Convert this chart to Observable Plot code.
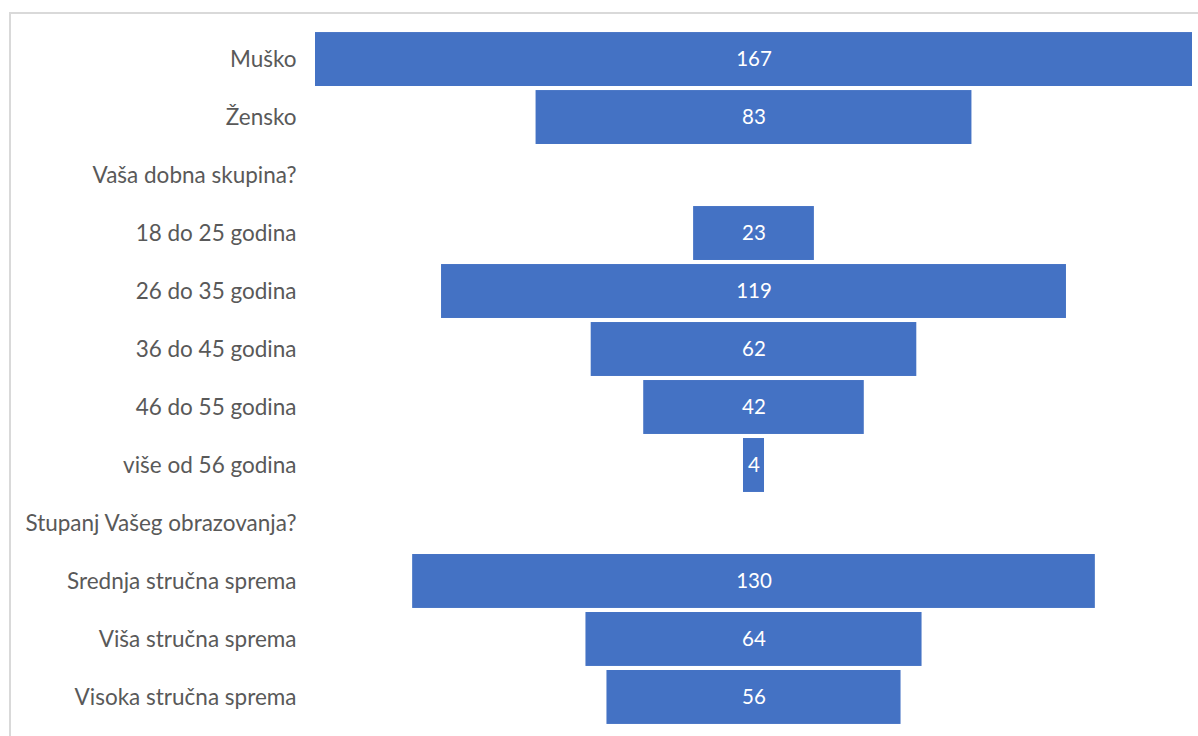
<!DOCTYPE html>
<html>
<head>
<meta charset="utf-8">
<script src="https://cdn.jsdelivr.net/npm/d3@7"></script>
<script src="https://cdn.jsdelivr.net/npm/@observablehq/plot@0.6"></script>
<style>
  html, body { margin: 0; padding: 0; background: #fff; }
  #wrap { position: relative; width: 1198px; height: 736px; overflow: hidden; }
  #border { position: absolute; left: 9px; top: 12px; right: -5px; bottom: -5px;
            border-top: 2px solid #d9d9d9; border-left: 2px solid #d9d9d9; pointer-events: none; }
</style>
</head>
<body>
<div id="wrap"><div id="border"></div></div>
<script>
const categories = [
  "Muško", "Žensko", "Vaša dobna skupina?",
  "18 do 25 godina", "26 do 35 godina", "36 do 45 godina", "46 do 55 godina", "više od 56 godina",
  "Stupanj Vašeg obrazovanja?",
  "Srednja stručna sprema", "Viša stručna sprema", "Visoka stručna sprema"
];
const values = [167, 83, null, 23, 119, 62, 42, 4, null, 130, 64, 56];

const data = categories.map((c, i) => ({category: c, value: values[i]}));
const bars = data.filter(d => d.value != null);
const maxV = d3.max(values);

const chart = Plot.plot({
  width: 1198,
  height: 736,
  marginLeft: 315,
  marginRight: 6,
  marginTop: 28,
  marginBottom: 8,
  style: {fontFamily: "Lato, 'Open Sans', sans-serif", background: "transparent"},
  x: {domain: [-maxV / 2, maxV / 2], axis: null},
  y: {domain: categories, padding: 0.07, round: false, label: null},
  marks: [
    Plot.axisY({tickSize: 0, tickPadding: 19, fontSize: 22.5, fill: "#595959", label: null}),
    Plot.barX(bars, {y: "category", x1: d => -d.value / 2, x2: d => d.value / 2, fill: "#4472c4"}),
    Plot.text(bars, {y: "category", x: 0, text: d => String(d.value), fill: "white", fontSize: 20.5}),
    Plot.ruleX([-maxV / 2], {y1: categories[0], y2: categories[categories.length - 1], insetTop: -29, insetBottom: -27, stroke: "#d9d9d9", strokeWidth: 2})
  ]
});
chart.style.position = "absolute";
chart.style.left = "0";
chart.style.top = "0";
document.getElementById("wrap").appendChild(chart);
</script>
</body>
</html>
